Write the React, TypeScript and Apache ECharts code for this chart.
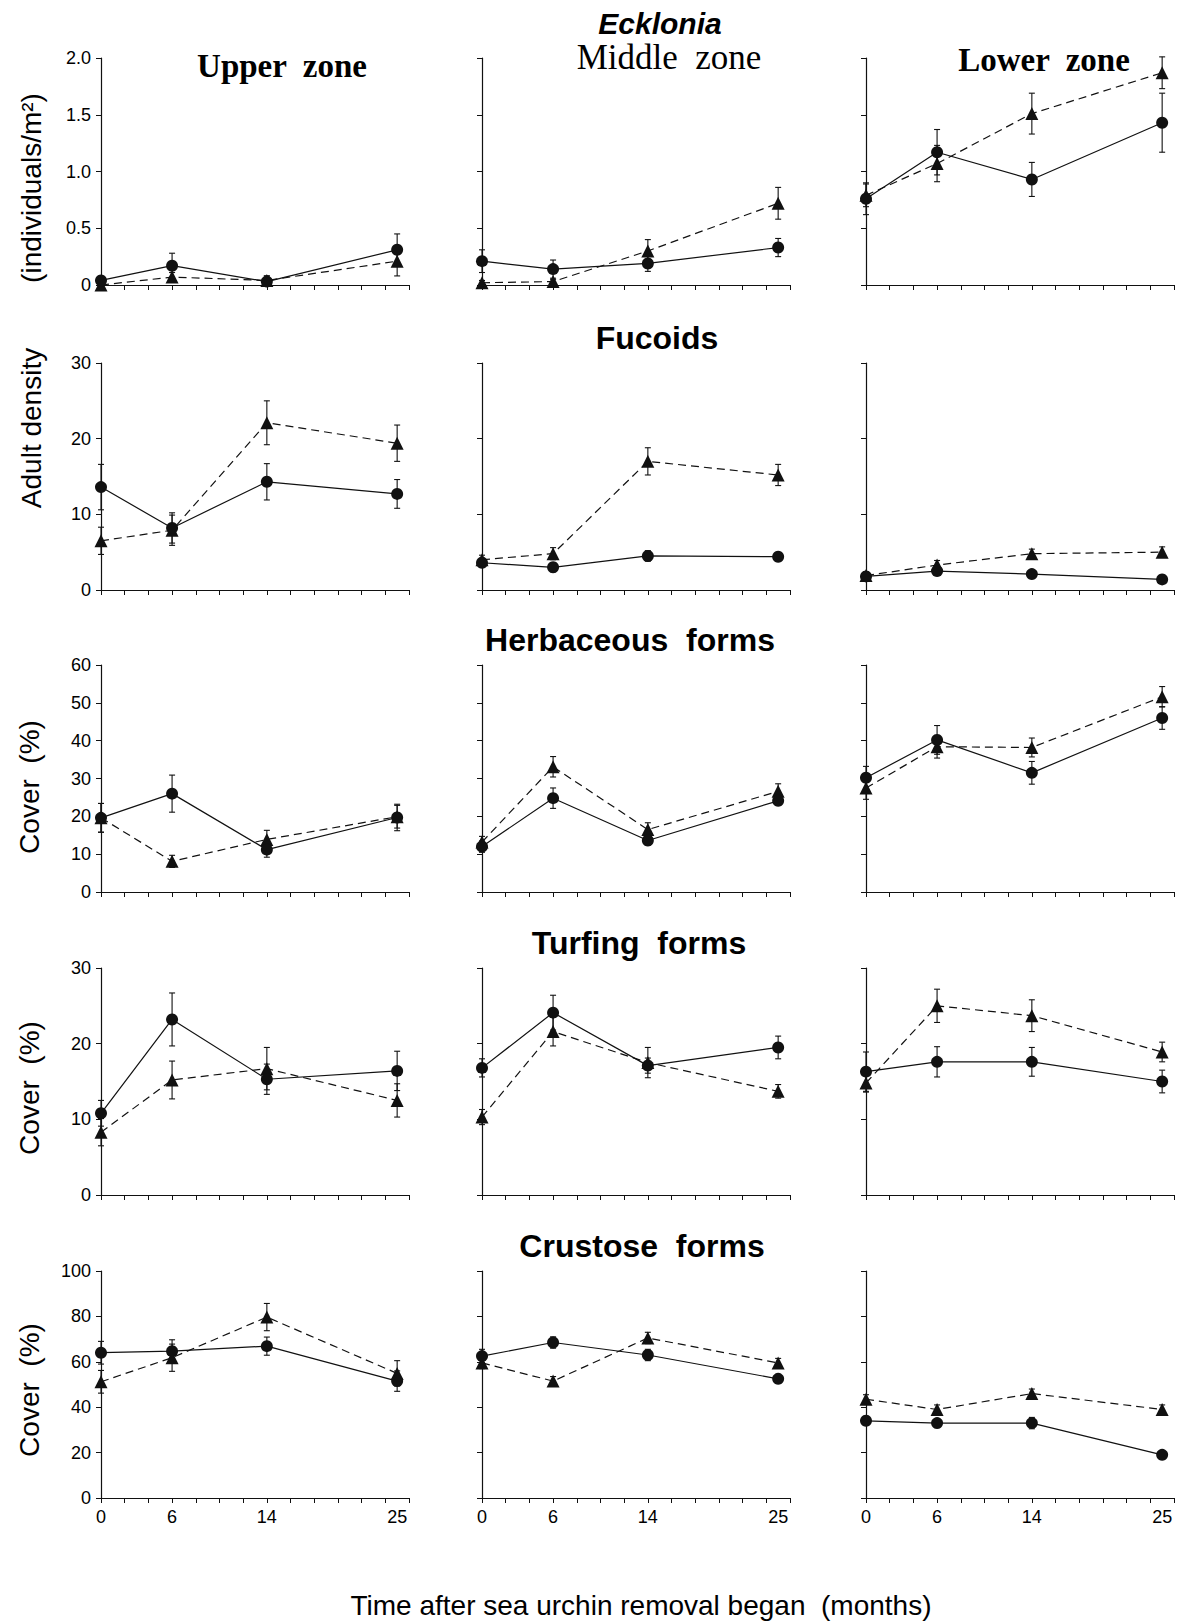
import React, { useEffect, useRef } from "react";
import * as echarts from "echarts";

// ---------- data ----------
const months = [0, 6, 14, 25];
const xTickLabels = [0, 6, 14, 25];
const zoneTitles = ["Upper  zone", "Middle  zone", "Lower  zone"];
const groupTitles = ["Ecklonia", "Fucoids", "Herbaceous  forms", "Turfing  forms", "Crustose  forms"];
const yMax = [2, 30, 60, 30, 100];
const yStep = [0.5, 10, 10, 10, 20];

// each group: [upper, middle, lower]
const eckloniaCircle = [[0.04, 0.17, 0.03, 0.31], [0.21, 0.14, 0.19, 0.33], [0.76, 1.17, 0.93, 1.43]];
const eckloniaCircleSE = [[0.03, 0.11, 0.05, 0.14], [0.1, 0.08, 0.07, 0.08], [0.14, 0.2, 0.15, 0.26]];
const eckloniaTriangle = [[0.0, 0.07, 0.04, 0.21], [0.02, 0.03, 0.3, 0.72], [0.79, 1.07, 1.51, 1.87]];
const eckloniaTriangleSE = [[0.01, 0.04, 0.04, 0.13], [0.02, 0.02, 0.1, 0.14], [0.1, 0.16, 0.18, 0.14]];

const fucoidCircle = [[13.6, 8.2, 14.3, 12.7], [3.6, 3.0, 4.5, 4.4], [1.8, 2.5, 2.1, 1.4]];
const fucoidCircleSE = [[3.0, 2.0, 2.4, 1.9], [0.6, 0.6, 0.7, 0.5], [0.5, 0.5, 0.5, 0.5]];
const fucoidTriangle = [[6.5, 7.9, 22.1, 19.4], [4.0, 4.8, 17.0, 15.2], [1.9, 3.3, 4.8, 5.0]];
const fucoidTriangleSE = [[1.8, 2.0, 2.9, 2.4], [0.6, 0.8, 1.8, 1.4], [0.5, 0.6, 0.6, 0.7]];

const herbCircle = [[19.6, 26.0, 11.2, 19.7], [12.0, 24.8, 13.6, 24.1], [30.2, 40.2, 31.5, 46.0]];
const herbCircleSE = [[3.8, 4.9, 2.0, 3.5], [1.5, 2.7, 1.2, 1.2], [3.0, 3.8, 3.0, 3.0]];
const herbTriangle = [[19.6, 8.1, 13.9, 19.9], [13.2, 33.1, 16.5, 26.6], [27.5, 38.4, 38.2, 51.6]];
const herbTriangleSE = [[3.8, 1.6, 2.4, 3.0], [1.5, 2.7, 1.8, 2.0], [3.0, 3.0, 2.5, 2.7]];

const turfCircle = [[10.8, 23.2, 15.3, 16.4], [16.8, 24.1, 17.1, 19.5], [16.3, 17.6, 17.6, 15.0]];
const turfCircleSE = [[1.7, 3.5, 2.0, 2.6], [1.2, 2.3, 1.0, 1.5], [2.6, 2.0, 1.9, 1.5]];
const turfTriangle = [[8.3, 15.2, 16.7, 12.5], [10.3, 21.6, 17.5, 13.7], [14.8, 25.0, 23.7, 18.9]];
const turfTriangleSE = [[1.8, 2.5, 2.8, 2.2], [1.0, 1.9, 2.0, 0.9], [1.2, 2.2, 2.1, 1.3]];

const crustCircle = [[64.0, 64.7, 66.9, 51.5], [62.5, 68.5, 63.0, 52.5], [34.0, 33.0, 33.0, 19.0]];
const crustCircleSE = [[5.0, 5.0, 4.0, 4.5], [3.0, 2.5, 2.5, 2.0], [2.0, 2.0, 2.5, 1.5]];
const crustTriangle = [[51.2, 61.8, 79.7, 54.9], [59.5, 51.5, 70.5, 59.5], [43.5, 39.0, 46.0, 39.0]];
const crustTriangleSE = [[5.0, 6.0, 6.0, 5.6], [2.5, 2.0, 2.5, 2.0], [2.0, 2.0, 2.0, 2.0]];

const circleRows = [eckloniaCircle, fucoidCircle, herbCircle, turfCircle, crustCircle];
const circleSERows = [eckloniaCircleSE, fucoidCircleSE, herbCircleSE, turfCircleSE, crustCircleSE];
const triangleRows = [eckloniaTriangle, fucoidTriangle, herbTriangle, turfTriangle, crustTriangle];
const triangleSERows = [eckloniaTriangleSE, fucoidTriangleSE, herbTriangleSE, turfTriangleSE, crustTriangleSE];

// ---------- layout ----------
const colLeft = [101, 482, 866];
const rowTop = [58, 363, 665, 968, 1271];
const panelW = 308;
const panelH = 227;
const SANS = '"Liberation Sans", Arial, sans-serif';
const SERIF = '"Liberation Serif", "Times New Roman", serif';
const INK = "#111";

function errRender(params: any, api: any) {
  const x = api.value(0);
  const lo = api.value(1);
  const hi = api.value(2);
  const a = api.coord([x, hi]);
  const b = api.coord([x, lo]);
  const w = 3;
  const st = { stroke: INK, lineWidth: 1.1 };
  return {
    type: "group",
    children: [
      { type: "line", shape: { x1: a[0], y1: a[1], x2: b[0], y2: b[1] }, style: st },
      { type: "line", shape: { x1: a[0] - w, y1: a[1], x2: a[0] + w, y2: a[1] }, style: st },
      { type: "line", shape: { x1: b[0] - w, y1: b[1], x2: b[0] + w, y2: b[1] }, style: st },
    ],
  };
}

function text(t: string, x: number, y: number, font: string, extra: any = {}) {
  return {
    type: "text",
    x,
    y,
    ...extra,
    style: {
      text: t,
      font,
      fill: "#000",
      textAlign: "center",
      align: "center",
      textVerticalAlign: "middle",
      verticalAlign: "middle",
    },
  };
}

function buildOption() {
  const grids: any[] = [];
  const xAxes: any[] = [];
  const yAxes: any[] = [];
  const series: any[] = [];

  for (let r = 0; r < 5; r++) {
    for (let c = 0; c < 3; c++) {
      const idx = r * 3 + c;
      grids.push({ left: colLeft[c], top: rowTop[r], width: panelW, height: panelH, containLabel: false });
      xAxes.push({
        gridIndex: idx,
        type: "value",
        min: 0,
        max: 26,
        interval: 2,
        axisLine: { show: true, onZero: false, lineStyle: { color: INK, width: 1.2 } },
        axisTick: { show: true, length: 5, inside: false, lineStyle: { color: INK, width: 1 } },
        axisLabel:
          r === 4
            ? { show: true, customValues: xTickLabels, fontSize: 18, color: "#000", fontFamily: SANS, margin: 10 }
            : { show: false },
        splitLine: { show: false },
      });
      yAxes.push({
        gridIndex: idx,
        type: "value",
        min: 0,
        max: yMax[r],
        interval: yStep[r],
        axisLine: { show: true, onZero: false, lineStyle: { color: INK, width: 1.2 } },
        axisTick: { show: true, length: 5, inside: false, lineStyle: { color: INK, width: 1 } },
        axisLabel:
          c === 0
            ? {
                show: true,
                fontSize: 18,
                color: "#000",
                fontFamily: SANS,
                margin: 10,
                formatter: (v: number) => (r === 0 ? (v === 0 ? "0" : v.toFixed(1)) : String(v)),
              }
            : { show: false },
        splitLine: { show: false },
      });

      const circ = circleRows[r][c];
      const circSE = circleSERows[r][c];
      const tri = triangleRows[r][c];
      const triSE = triangleSERows[r][c];

      series.push({
        type: "custom",
        xAxisIndex: idx,
        yAxisIndex: idx,
        renderItem: errRender,
        z: 1,
        clip: false,
        data: months.map((m, k) => [m, Math.max(0, circ[k] - circSE[k]), circ[k] + circSE[k]]),
      });
      series.push({
        type: "custom",
        xAxisIndex: idx,
        yAxisIndex: idx,
        renderItem: errRender,
        z: 1,
        clip: false,
        data: months.map((m, k) => [m, Math.max(0, tri[k] - triSE[k]), tri[k] + triSE[k]]),
      });
      series.push({
        type: "line",
        xAxisIndex: idx,
        yAxisIndex: idx,
        z: 3,
        clip: false,
        symbol: "triangle",
        symbolSize: 13,
        showAllSymbol: true,
        lineStyle: { color: INK, width: 1.2, type: [8, 5] },
        itemStyle: { color: INK },
        data: months.map((m, k) => [m, tri[k]]),
      });
      series.push({
        type: "line",
        xAxisIndex: idx,
        yAxisIndex: idx,
        z: 4,
        clip: false,
        symbol: "circle",
        symbolSize: 12,
        showAllSymbol: true,
        lineStyle: { color: INK, width: 1.2, type: "solid" },
        itemStyle: { color: INK },
        data: months.map((m, k) => [m, circ[k]]),
      });
    }
  }

  const graphic: any[] = [
    text(groupTitles[0], 660, 23, `italic bold 30px ${SANS}`),
    text(zoneTitles[0], 282, 66, `bold 33px ${SERIF}`),
    text(zoneTitles[1], 669, 57, `normal 35px ${SERIF}`),
    text(zoneTitles[2], 1044, 60, `bold 33px ${SERIF}`),
    text(groupTitles[1], 657, 338, `bold 32px ${SANS}`),
    text(groupTitles[2], 630, 640, `bold 32px ${SANS}`),
    text(groupTitles[3], 639, 943, `bold 32px ${SANS}`),
    text(groupTitles[4], 642, 1246, `bold 32px ${SANS}`),
    text("(individuals/m²)", 31, 188, `28px ${SANS}`, { rotation: Math.PI / 2 }),
    text("Adult density", 31, 428, `28px ${SANS}`, { rotation: Math.PI / 2 }),
    text("Cover  (%)", 29, 787, `28px ${SANS}`, { rotation: Math.PI / 2 }),
    text("Cover  (%)", 29, 1088, `28px ${SANS}`, { rotation: Math.PI / 2 }),
    text("Cover  (%)", 29, 1390, `28px ${SANS}`, { rotation: Math.PI / 2 }),
    text("Time after sea urchin removal began  (months)", 641, 1605, `28px ${SANS}`),
  ];

  return {
    animation: false,
    backgroundColor: "#fff",
    grid: grids,
    xAxis: xAxes,
    yAxis: yAxes,
    series,
    graphic,
  };
}

export default function App() {
  const ref = useRef<HTMLDivElement>(null);
  useEffect(() => {
    if (!ref.current) return;
    const chart = echarts.init(ref.current, undefined, { renderer: "svg" });
    chart.setOption(buildOption() as any);
    return () => chart.dispose();
  }, []);
  return (
    <div
      ref={ref}
      style={{ position: "absolute", left: 0, top: 0, width: 1184, height: 1622, background: "#fff" }}
    />
  );
}
